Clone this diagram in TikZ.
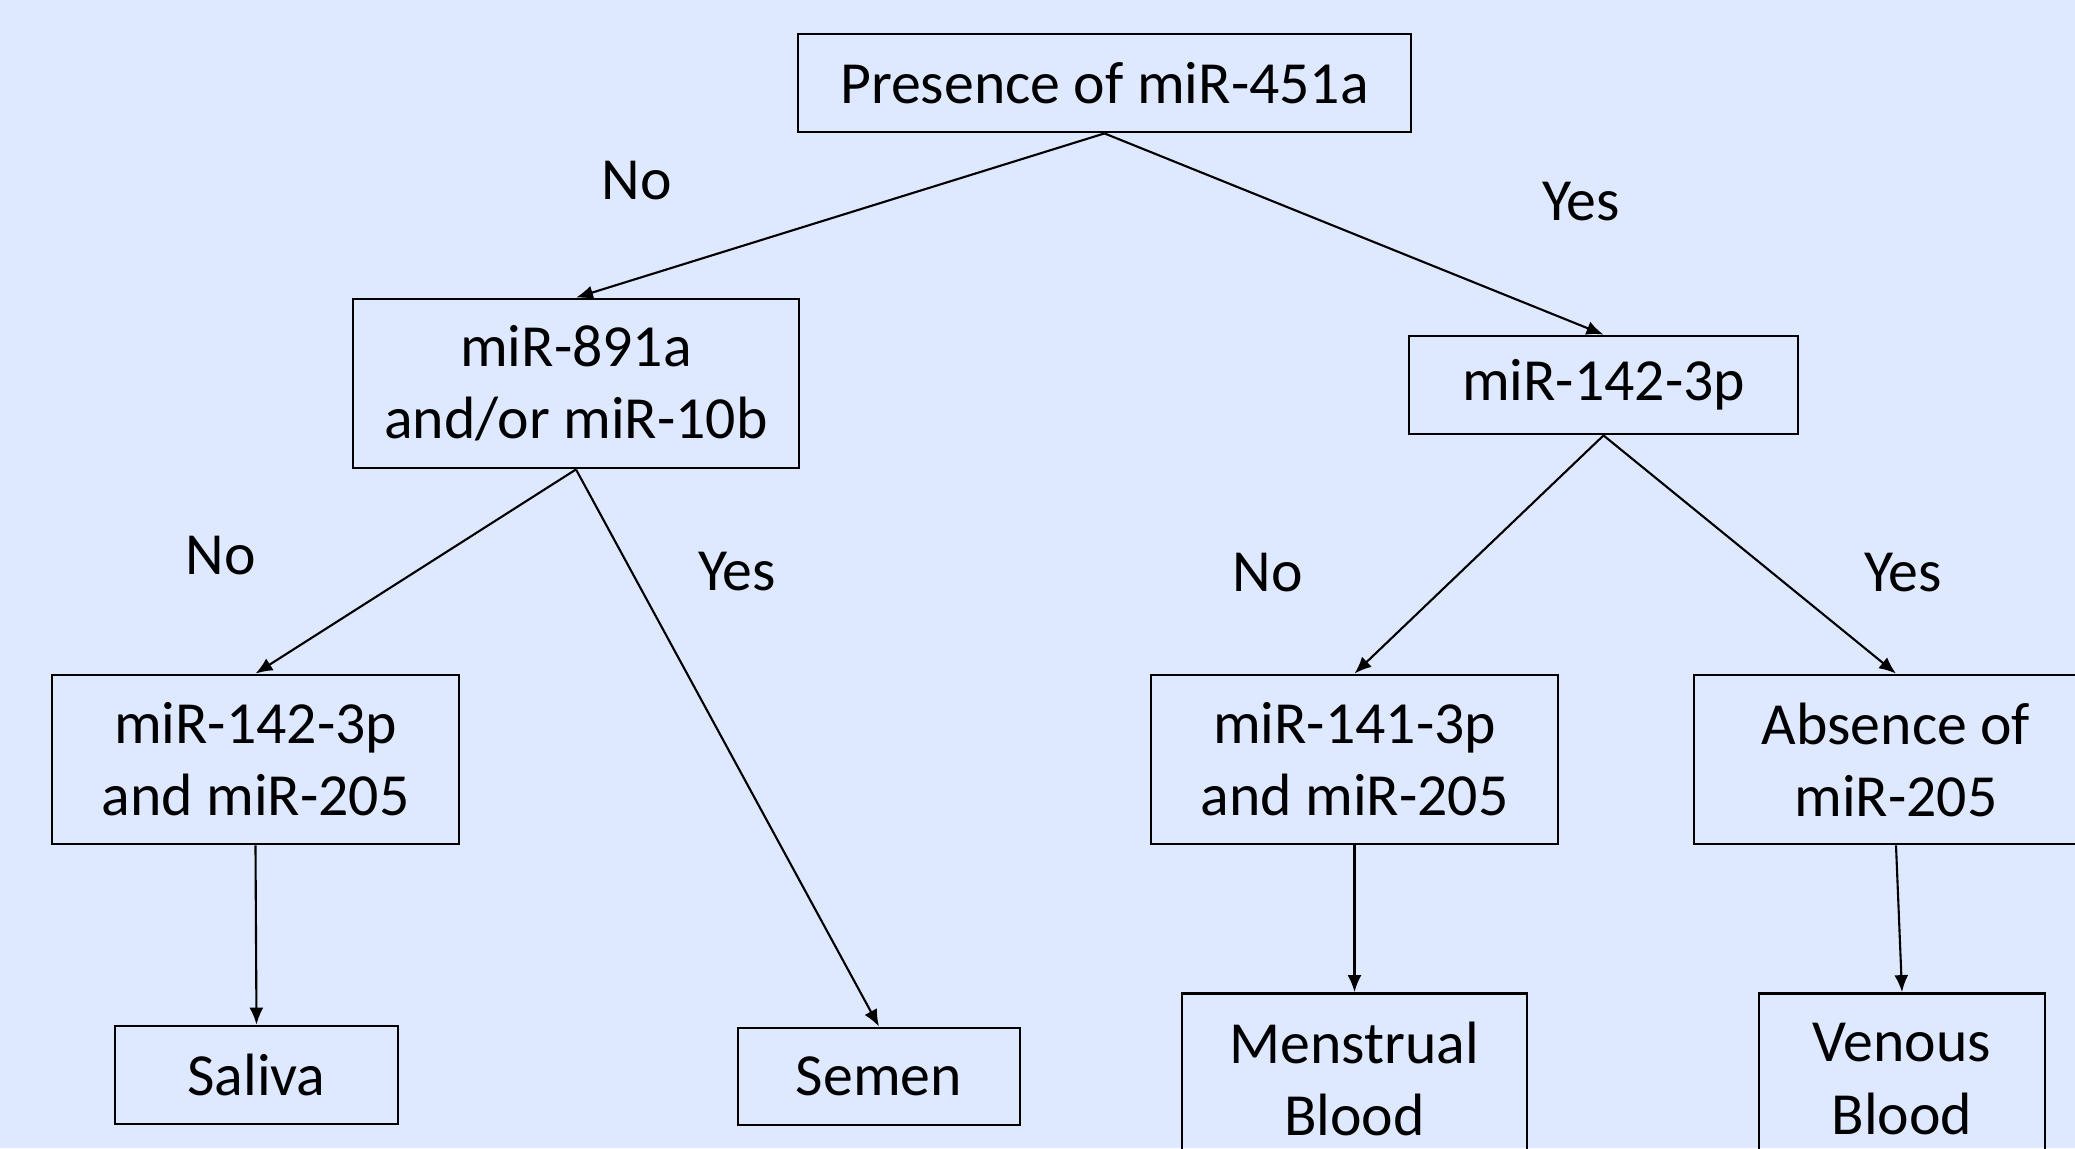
\documentclass[tikz,border=0pt]{standalone}
\usepackage{fontspec}
\setmainfont{Carlito}
\usetikzlibrary{arrows.meta}
\definecolor{bgblue}{RGB}{222,232,255}
\begin{document}
\begin{tikzpicture}[box/.style={draw,line width=0.8pt,align=center,inner sep=0pt,font=\fontsize{17}{20.5}\selectfont},
lbl/.style={font=\fontsize{17}{20.5}\selectfont},
arr/.style={-{Latex[length=0.17cm,width=0.14cm]},line width=0.6pt}]
\fill[bgblue](0,0)rectangle(20.75,-11.48);
\useasboundingbox(0,0)rectangle(20.75,-11.48);
% first question
\node[box,minimum width=6.13cm,minimum height=0.98cm](q451) at (11.045,-0.83){Presence of miR-451a};
% second level
\node[box,minimum width=4.46cm,minimum height=1.69cm](q891) at (5.76,-3.835){miR-891a\\and/or miR-10b};
\node[box,minimum width=3.89cm,minimum height=0.98cm](q142) at (16.035,-3.85){miR-142-3p};
% third level
\node[box,minimum width=4.07cm,minimum height=1.69cm](q142b) at (2.555,-7.595){miR-142-3p\\and miR-205};
\node[box,minimum width=4.07cm,minimum height=1.69cm](q141) at (13.545,-7.595){miR-141-3p\\and miR-205};
\node[box,minimum width=4.04cm,minimum height=1.69cm](q205) at (18.96,-7.595){Absence of\\miR-205};
% fluids
\node[box,minimum width=2.83cm,minimum height=0.98cm](saliva) at (2.565,-10.75){Saliva};
\node[box,minimum width=2.82cm,minimum height=0.97cm](semen) at (8.79,-10.765){Semen};
\node[box,minimum width=3.45cm,minimum height=1.71cm](menses) at (13.545,-10.79){Menstrual\\Blood};
\node[box,minimum width=2.86cm,minimum height=1.71cm](venous) at (19.02,-10.79){Venous\\Blood};
% answers
\node[lbl](no1) at (6.37,-1.81){No};
\node[lbl](yes1) at (15.81,-2.02){Yes};
\node[lbl](no2) at (2.21,-5.56){No};
\node[lbl](yes2) at (7.37,-5.72){Yes};
\node[lbl](no3) at (12.68,-5.73){No};
\node[lbl](yes3) at (19.03,-5.73){Yes};
\draw[arr](q451.south)--(q891.north);
\draw[arr](q451.south)--(q142.north);
\draw[arr](q891.south)--(q142b.north);
\draw[arr](q891.south)--(semen.north);
\draw[arr](q142.south)--(q141.north);
\draw[arr](q142.south)--(q205.north);
\draw[arr](q142b.south)--(saliva.north);
\draw[arr](q141.south)--(menses.north);
\draw[arr](q205.south)--(venous.north);
\end{tikzpicture}
\end{document}
